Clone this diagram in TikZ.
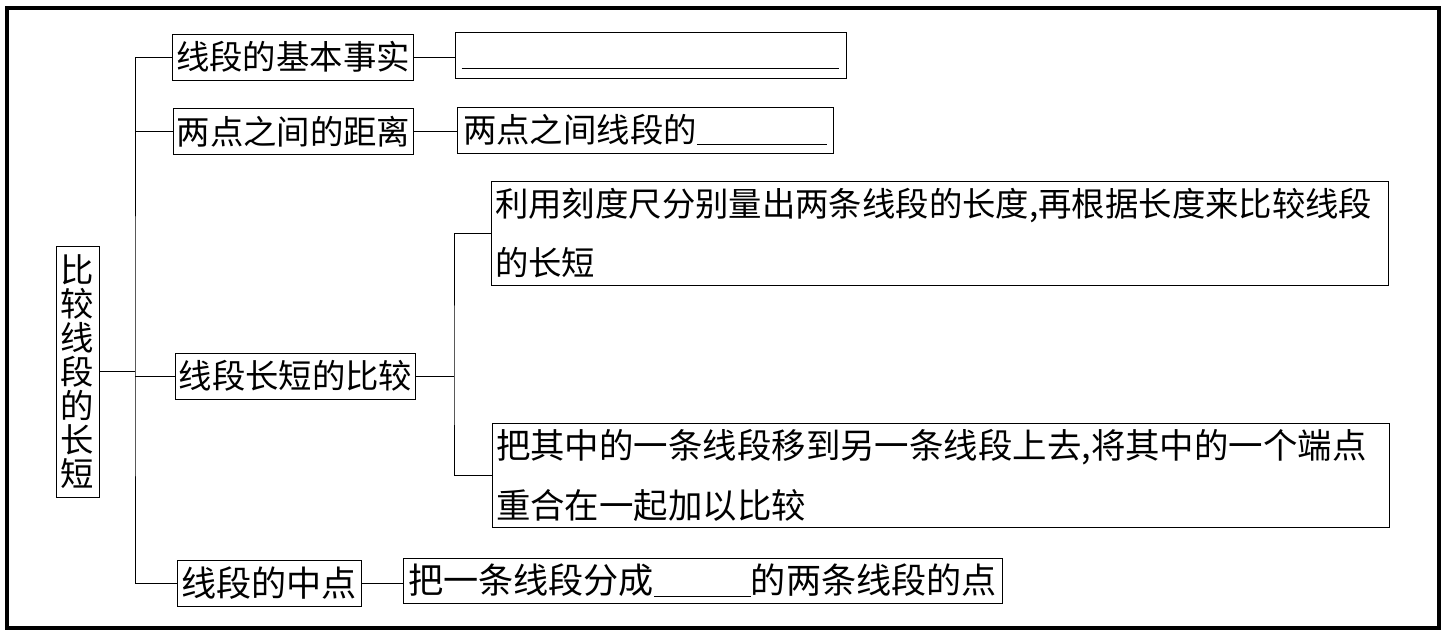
\documentclass[tikz,border=0pt]{standalone}
\usepackage{fontspec}
\usepackage{tikz}
\usetikzlibrary{positioning}
\newfontfamily\cjk{Noto Sans CJK SC}

\begin{document}
\begin{tikzpicture}[x=0.02cm,y=-0.02cm,
  box/.style={draw,line width=0.5pt,inner sep=2pt,font=\cjk\fontsize{19}{34}\selectfont},
  topic/.style={box,minimum width=4.8cm,minimum height=0.92cm},
  wide/.style={box,text width=17.8cm,align=left,minimum height=2.08cm,font=\cjk\fontsize{19}{34}\selectfont},
  link/.style={line width=0.5pt}]
\useasboundingbox (0,0) rectangle (1449,634);
\draw[line width=2.2pt] (7,8) rectangle (1439,628);
\node[box,minimum width=0.86cm,minimum height=5.02cm,align=center,font=\cjk\fontsize{19}{19.4}\selectfont] (root) at (77.5,371.5) {比\\较\\线\\段\\的\\长\\短};
\node[topic] (fact) at (293,57) {线段的基本事实};
\node[topic] (dist) at (293.5,131.5) {两点之间的距离};
\node[topic] (cmp) at (295.5,376) {线段长短的比较};
\node[topic,minimum width=3.68cm,font=\cjk\fontsize{20}{34}\selectfont] (mid) at (269,583.5) {线段的中点};
\node[box,minimum width=7.82cm,minimum height=0.92cm] (factans) at (650.5,55) {\vphantom{两}\underline{\hspace{7.56cm}}};
\node[box,minimum width=7.52cm,minimum height=0.92cm] (distans) at (645,130) {两点之间线段的\underline{\hspace{2.6cm}}};
\node[wide] (ruler) at (940,233) {利用刻度尺分别量出两条线段的长度,再根据长度来比较线段\\的长短};
\node[wide,font=\cjk\fontsize{19.6}{34}\selectfont] (overlap) at (941,475.5) {把其中的一条线段移到另一条线段上去,将其中的一个端点\\重合在一起加以比较};
\node[box,minimum width=11.98cm,minimum height=0.9cm,font=\cjk\fontsize{20}{34}\selectfont] (midans) at (702.5,580.5) {把一条线段分成\underline{\hspace{1.94cm}}的两条线段的点};
\coordinate (trunk) at (135,371.5);
\coordinate (fork) at (454,376);
\draw[link] (root.east) -- (trunk);
\draw[link] (fact.west) -| (trunk) |- (mid.west);
\draw[link] (dist.west) -- (dist.west -| trunk);
\draw[link] (cmp.west) -- (cmp.west -| trunk);
\draw[link] (fact.east) -- (fact.east -| factans.west);
\draw[link] (dist.east) -- (dist.east -| distans.west);
\draw[link] (mid.east) -- (mid.east -| midans.west);
\draw[link] (cmp.east) -- (fork);
\draw[link] (ruler.west) -| (fork) |- (overlap.west);
\end{tikzpicture}
\end{document}
